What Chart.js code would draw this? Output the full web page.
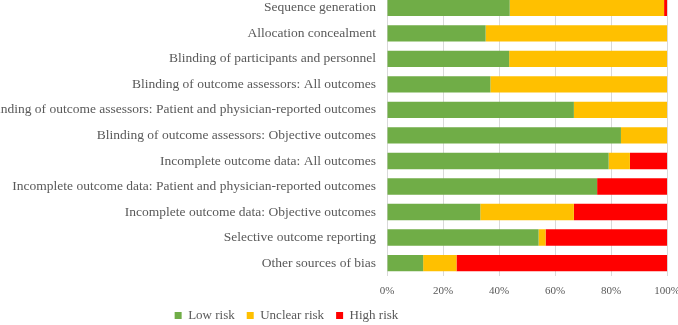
<!DOCTYPE html>
<html>
<head>
<meta charset="utf-8">
<script src="https://cdn.jsdelivr.net/npm/chart.js@4"></script>
<style>
  html, body { margin: 0; padding: 0; background: #fff; }
  #wrap { position: relative; width: 678px; height: 325px; overflow: hidden; }
  #box { position: absolute; left: 0; top: -24px; width: 689px; height: 370px; }
</style>
</head>
<body>
<div id="wrap"><div id="box"><canvas id="riskChart"></canvas></div></div>
<script>
// risk of bias domains, top to bottom
const domains = [
  'Sequence generation',
  'Allocation concealment',
  'Blinding of participants and personnel',
  'Blinding of outcome assessors: All outcomes',
  'Blinding of outcome assessors: Patient and physician-reported outcomes',
  'Blinding of outcome assessors: Objective outcomes',
  'Incomplete outcome data: All outcomes',
  'Incomplete outcome data: Patient and physician-reported outcomes',
  'Incomplete outcome data: Objective outcomes',
  'Selective outcome reporting',
  'Other sources of bias'
];

// percentages
const lowRisk = [43.8, 35.2, 43.6, 36.9, 66.7, 83.5, 79.1, 75.0, 33.3, 54.1, 12.9];
const unclearRisk = [55.1, 64.8, 56.4, 63.1, 33.3, 16.5, 7.6, 0, 33.4, 2.5, 11.9];
const highRisk = [1.1, 0, 0, 0, 0, 0, 13.3, 25.0, 33.3, 43.4, 75.2];

const xTicks = [0, 20, 40, 60, 80, 100];

const textColor = '#595959';
const serif = '"Liberation Serif", "Times New Roman", serif';

// nudge the legend to where the original sits (left of centre, a bit higher)
const legendNudge = {
  id: 'legendNudge',
  afterLayout(chart) {
    const lg = chart.legend;
    if (!lg) return;
    lg.left -= 58;
    lg.right -= 58;
    lg.top -= 10;
    lg.bottom -= 10;
  }
};

document.addEventListener('DOMContentLoaded', function () {
  let ctx = document.getElementById('riskChart').getContext('2d');
  let chart = new Chart(ctx, {
    type: 'bar',
    data: {
      labels: domains,
      datasets: [
        { label: 'Low risk', data: lowRisk, backgroundColor: '#70AD47' },
        { label: 'Unclear risk', data: unclearRisk, backgroundColor: '#FFC000' },
        { label: 'High risk', data: highRisk, backgroundColor: '#FF0000' }
      ]
    },
    options: {
      indexAxis: 'y',
      responsive: true,
      maintainAspectRatio: false,
      animation: false,
      layout: { padding: { left: 0, right: 0, top: 0, bottom: 4 } },
      datasets: {
        bar: { categoryPercentage: 1, barPercentage: 0.64, borderWidth: 0 }
      },
      scales: {
        x: {
          stacked: true,
          min: 0,
          max: 100,
          afterBuildTicks: (scale) => {
            scale.ticks = xTicks.map(v => ({ value: v }));
          },
          ticks: {
            padding: 9,
            color: textColor,
            font: { family: serif, size: 11 },
            callback: (v) => v + '%'
          },
          grid: { color: '#D9D9D9', drawTicks: false },
          border: { display: false }
        },
        y: {
          stacked: true,
          afterFit: (scale) => { scale.width = 387; },
          ticks: {
            padding: 11,
            color: textColor,
            font: { family: serif, size: 13.5 }
          },
          grid: { display: false, drawTicks: false },
          border: { display: true, color: '#D9D9D9' }
        }
      },
      plugins: {
        legend: {
          position: 'bottom',
          labels: {
            boxWidth: 7,
            boxHeight: 7,
            padding: 12,
            color: textColor,
            font: { family: serif, size: 13 }
          }
        },
        tooltip: { enabled: false }
      }
    },
    plugins: [legendNudge]
  });
});
</script>
</body>
</html>
